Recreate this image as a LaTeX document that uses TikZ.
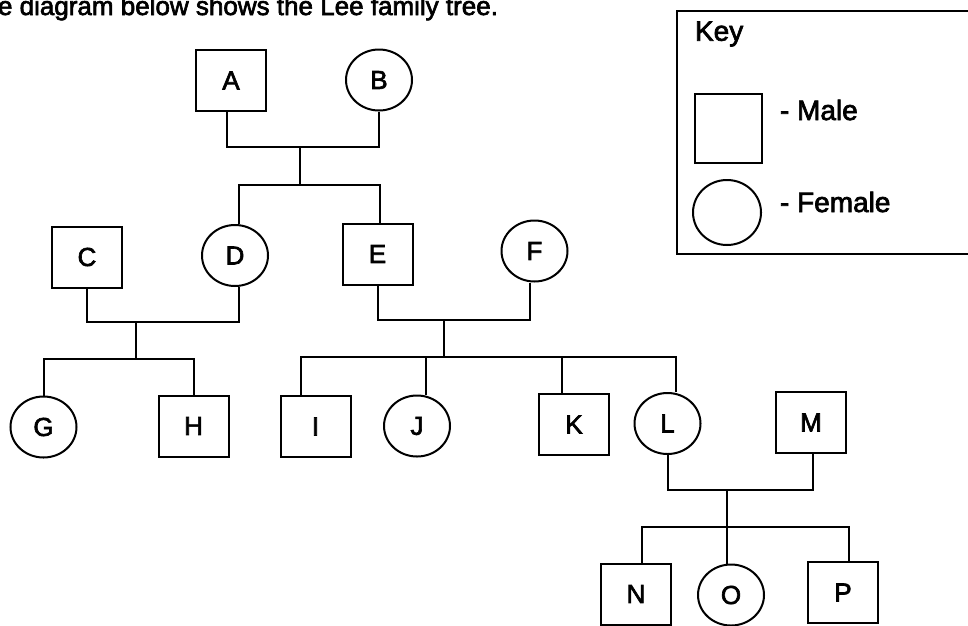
\documentclass[tikz,border=0pt]{standalone}
\usepackage{fontspec}
% bold face = the regular outlines, stroked heavier
\setmainfont{Liberation Sans}[BoldFont=Liberation Sans, BoldFeatures={FakeBold=2.5}]
\usetikzlibrary{shapes.geometric}

\begin{document}
\begin{tikzpicture}[x=1pt,y=-1pt,line width=2pt,
  lbl/.style={font=\fontsize{26}{26}\selectfont\bfseries},
  male/.style={draw, rectangle, minimum width=70pt, minimum height=61pt, inner sep=0pt, lbl},
  female/.style={draw, ellipse, minimum width=66pt, minimum height=61pt, inner sep=0pt, lbl},
  keytext/.style={font=\fontsize{28}{28}\selectfont\bfseries, inner sep=0pt, anchor=west},
  link/.style={line width=2pt}]
\useasboundingbox (0,0) rectangle (968,625);
\clip (0,0) rectangle (968,625);

% heading, its top running off the page
\node[anchor=base west, inner sep=0pt, font=\fontsize{26}{26}\selectfont\bfseries] (title) at (-3,15) {e diagram below shows the Lee family tree.};

% generation 1
\node[male]   (A) at (231,80.5) {A};
\node[female] (B) at (379,80)   {B};
% generation 2
\node[male]   (C) at (87,257)    {C};
\node[female] (D) at (235,255.5) {D};
\node[male]   (E) at (377.5,254) {E};
\node[female] (F) at (534.5,251) {F};
% generation 3
\node[female] (G) at (43.5,427)  {G};
\node[male]   (H) at (193.5,426) {H};
\node[male]   (I) at (315.5,426.5) {I};
\node[female] (J) at (417,426)   {J};
\node[male]   (K) at (574,424.5) {K};
\node[female] (L) at (667.5,423.5) {L};
\node[male]   (M) at (811,422.5) {M};
% generation 4
\node[male]   (N) at (636,594)   {N};
\node[female] (O) at (731,595)   {O};
\node[male]   (P) at (843,592.5) {P};

% junctions of couples and of their children
\coordinate (mAB) at (300,147);
\coordinate (cAB) at (300,185);
\coordinate (mCD) at (136,322);
\coordinate (cCD) at (136,359);
\coordinate (mEF) at (444,320);
\coordinate (cEF) at (444,357);
\coordinate (mLM) at (727,490);
\coordinate (cLM) at (727,527);

% A + B -> D, E
\draw[link] ([xshift=-4pt]A.south) |- (mAB) -| (B.south);
\draw[link] (mAB) -- (cAB);
\draw[link] ([xshift=4pt]D.north) |- (cAB) -| ([xshift=2pt]E.north);

% C + D -> G, H
\draw[link] (C.south) |- (mCD) -| ([xshift=4pt]D.south);
\draw[link] (mCD) -- (cCD);
\draw[link] (G.north) |- (cCD) -| (H.north);

% E + F -> I, J, K, L
\draw[link] (E.south) |- (mEF) -| ([xshift=-4.5pt]F.south);
\draw[link] (mEF) -- (cEF);
\draw[link] ([xshift=-14.5pt]I.north) |- (cEF) -| ([xshift=8.5pt]L.north);
\draw[link] ([xshift=9pt]J.north) -- ([xshift=9pt]J.north |- cEF);
\draw[link] ([xshift=-12pt]K.north) -- ([xshift=-12pt]K.north |- cEF);

% L + M -> N, O, P
\draw[link] (L.south) |- (mLM) -| ([xshift=2pt]M.south);
\draw[link] (mLM) -- (cLM);
\draw[link] ([xshift=6pt]N.north) |- (cLM) -| ([xshift=6pt]P.north);
\draw[link] (cLM) -- (cLM |- O.north);

% key
\node[draw, rectangle, anchor=north west, minimum width=310pt, minimum height=243pt, inner sep=0pt] (keybox) at (676,10) {};
\node[keytext] (keytitle) at (694,34) {Key};
\node[draw, rectangle, minimum width=67pt, minimum height=69pt, inner sep=0pt] (keymale) at (728.5,128.5) {};
\node[draw, ellipse, minimum width=68pt, minimum height=65pt, inner sep=0pt] (keyfemale) at (727,212.5) {};
\node[keytext] (malelbl) at (779,110) {- Male};
\node[keytext] (femalelbl) at (779,202) {- Female};
\end{tikzpicture}
\end{document}
